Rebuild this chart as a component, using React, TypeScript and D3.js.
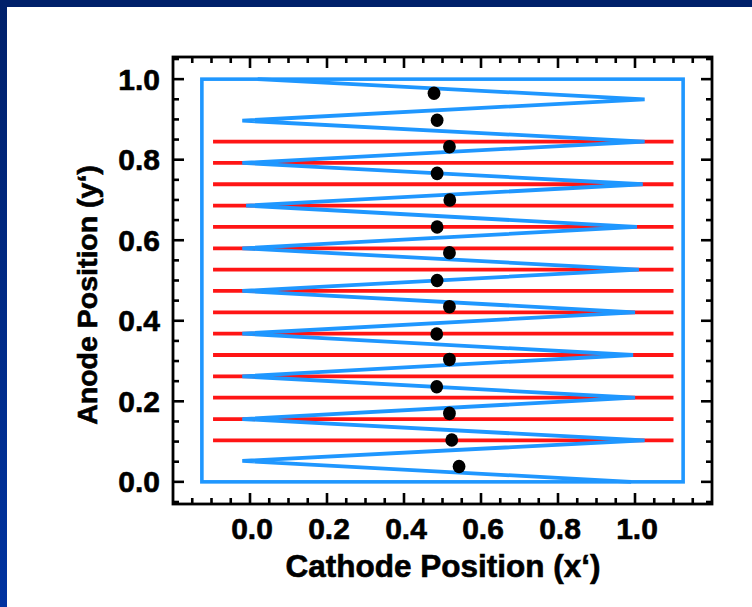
import React from "react";
import * as d3 from "d3";

const xTickValues = [0.0, 0.2, 0.4, 0.6, 0.8, 1.0];
const yTickValues = [0.0, 0.2, 0.4, 0.6, 0.8, 1.0];
const xTickLabels = ["0.0", "0.2", "0.4", "0.6", "0.8", "1.0"];
const yTickLabels = ["0.0", "0.2", "0.4", "0.6", "0.8", "1.0"];

// blue boundary rectangle (x0, x1, y0, y1)
const rectX = [-0.125, 1.125];
const rectY = [0.0, 1.0];

// blue zigzag vertices
const zigX = [0.02, 1.025, -0.02, 1.025, -0.02, 1.02, -0.01, 1.005, -0.02, 1.01, -0.02, 1.0, -0.02, 0.995, -0.02, 1.0, -0.02, 1.025, -0.02, 0.99];
const zigY = [1.0, 0.95, 0.897, 0.845, 0.792, 0.739, 0.686, 0.633, 0.58, 0.527, 0.474, 0.421, 0.368, 0.315, 0.262, 0.209, 0.156, 0.103, 0.052, 0.0];

// red horizontal lines
const redLevels = [0.845, 0.792, 0.739, 0.686, 0.633, 0.58, 0.527, 0.474, 0.421, 0.368, 0.315, 0.262, 0.209, 0.156, 0.103];
const redX = [-0.096, 1.1];

// black dots
const dotX = [0.478, 0.486, 0.518, 0.486, 0.519, 0.486, 0.518, 0.486, 0.518, 0.485, 0.518, 0.485, 0.518, 0.524, 0.543];
const dotY = [0.965, 0.898, 0.832, 0.766, 0.7, 0.633, 0.569, 0.5, 0.435, 0.367, 0.304, 0.236, 0.17, 0.104, 0.038];

const W = 752;
const H = 607;
const FONT = "'Liberation Sans', Arial, Helvetica, sans-serif";

export default function App() {
  const x = d3.scaleLinear().domain([-0.2, 1.2]).range([173, 712]);
  const y = d3.scaleLinear().domain([-0.055, 1.055]).range([504, 57]);

  const xMinor = d3.range(-0.15, 1.2, 0.05).map((v) => Math.round(v * 100) / 100);
  const yMinor = d3.range(-0.05, 1.051, 0.05).map((v) => Math.round(v * 100) / 100);
  const isMajor = (v: number) => Math.abs(v * 5 - Math.round(v * 5)) < 1e-6 && v >= -1e-6 && v <= 1 + 1e-6;

  const zigLine = d3
    .line<number>()
    .x((_, i) => x(zigX[i]))
    .y((_, i) => y(zigY[i]));
  const zigPath = zigLine(zigX.map((_, i) => i)) || "";

  const [x0, x1] = x.range();
  const [y0, y1] = y.range(); // y0 bottom, y1 top
  const majorLen = 11;
  const minorLen = 6;

  const textStyle = {
    fontFamily: FONT,
    fontWeight: "bold" as const,
    fill: "#000",
    stroke: "#000",
    strokeWidth: 0.6,
  };

  return (
    <svg
      width={W}
      height={H}
      style={{ position: "absolute", left: 0, top: 0, background: "#ffffff" }}
    >
      <defs>
        <linearGradient id="sideGrad" x1="0" y1="0" x2="0" y2="1">
          <stop offset="0" stopColor="#00206a" />
          <stop offset="1" stopColor="#0033a0" />
        </linearGradient>
      </defs>
      <rect x={0} y={0} width={W} height={H} fill="#ffffff" />
      <rect x={0} y={0} width={W} height={7} fill="#00206a" />
      <rect x={0} y={0} width={7} height={H} fill="url(#sideGrad)" />

      {/* blue rectangle */}
      <rect
        x={x(rectX[0])}
        y={y(rectY[1])}
        width={x(rectX[1]) - x(rectX[0])}
        height={y(rectY[0]) - y(rectY[1])}
        fill="none"
        stroke="#1f97ff"
        strokeWidth={3.6}
      />

      {/* red lines */}
      {redLevels.map((v, i) => (
        <line
          key={"r" + i}
          x1={x(redX[0])}
          x2={x(redX[1])}
          y1={y(v)}
          y2={y(v)}
          stroke="#ff1515"
          strokeWidth={3.8}
        />
      ))}

      {/* zigzag */}
      <path d={zigPath} fill="none" stroke="#1f97ff" strokeWidth={3.8} strokeLinejoin="miter" strokeMiterlimit={2} />

      {/* dots */}
      {dotX.map((v, i) => (
        <ellipse key={"d" + i} cx={x(v)} cy={y(dotY[i])} rx={6.4} ry={6.8} fill="#000000" />
      ))}

      {/* frame */}
      <rect x={x0} y={y1} width={x1 - x0} height={y0 - y1} fill="none" stroke="#000" strokeWidth={2.8} />

      {/* x ticks bottom & top */}
      {xMinor.map((v, i) => {
        const len = isMajor(v) ? majorLen : minorLen;
        return (
          <g key={"xt" + i} stroke="#000" strokeWidth={2.6}>
            <line x1={x(v)} x2={x(v)} y1={y0} y2={y0 - len} />
            <line x1={x(v)} x2={x(v)} y1={y1} y2={y1 + len} />
          </g>
        );
      })}
      {/* y ticks left & right */}
      {yMinor.map((v, i) => {
        const len = isMajor(v) ? majorLen : minorLen;
        return (
          <g key={"yt" + i} stroke="#000" strokeWidth={2.6}>
            <line x1={x0} x2={x0 + len} y1={y(v)} y2={y(v)} />
            <line x1={x1} x2={x1 - len} y1={y(v)} y2={y(v)} />
          </g>
        );
      })}

      {/* tick labels */}
      {xTickValues.map((v, i) => (
        <text key={"xl" + i} x={x(v) + 2} y={539} textAnchor="middle" fontSize={30} style={textStyle}>
          {xTickLabels[i]}
        </text>
      ))}
      {yTickValues.map((v, i) => (
        <text key={"yl" + i} x={160} y={y(v) + 10.5} textAnchor="end" fontSize={30} style={textStyle}>
          {yTickLabels[i]}
        </text>
      ))}

      {/* axis titles */}
      <text x={443} y={577} textAnchor="middle" fontSize={31.5} style={textStyle}>
        Cathode Position (x‘)
      </text>
      <text
        transform={`translate(97, ${295}) rotate(-90)`}
        textAnchor="middle"
        fontSize={28.5}
        style={textStyle}
      >
        Anode Position (y‘)
      </text>
    </svg>
  );
}
